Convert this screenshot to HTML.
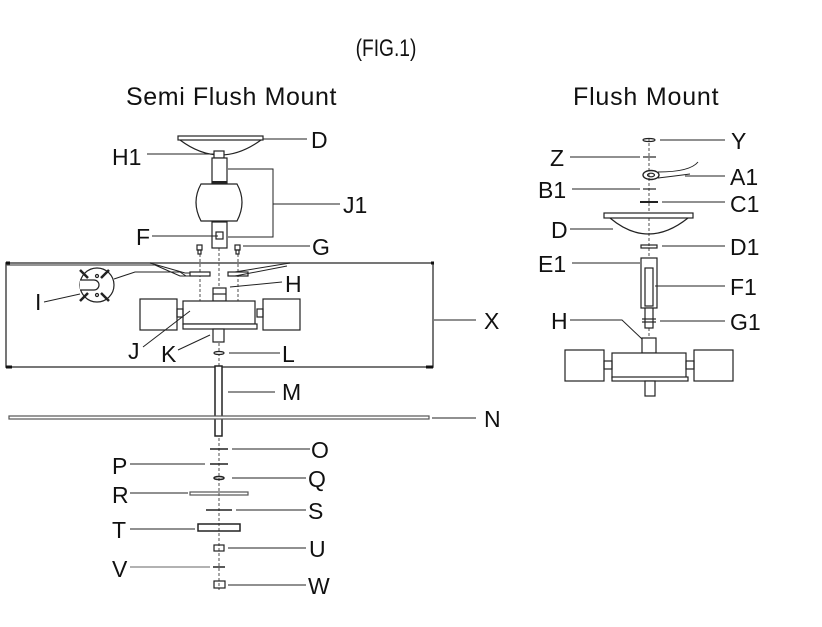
<!DOCTYPE html>
<html><head><meta charset="utf-8"><style>
html,body{margin:0;padding:0;background:#fff;}
svg{display:block;}
text{font-family:"Liberation Sans",sans-serif;fill:#111;}
</style></head><body>
<svg width="822" height="627" viewBox="0 0 822 627" xmlns="http://www.w3.org/2000/svg">
<g font-size="22">
<text x="386" y="56" text-anchor="middle" font-size="24" transform="translate(386 0) scale(0.8 1) translate(-386 0)">(FIG.1)</text>
<text x="126" y="105" font-size="25" letter-spacing="0.6">Semi Flush Mount</text>
<text x="573" y="105" font-size="25" letter-spacing="0.8">Flush Mount</text>
</g>

<g stroke="#222" fill="none" stroke-width="1.2">
<rect x="178" y="136" width="85" height="4" fill="#fff"/>
<path d="M180 140 Q220 170 261 140"/>
<rect x="214" y="151" width="10" height="7" fill="#fff"/>
<rect x="212" y="158" width="15" height="25" fill="#fff"/>
<line x1="212" y1="182" x2="227" y2="182" stroke-width="2"/>
<path d="M201 184 L237 184 Q247 202 237 221 L201 221 Q191 202 201 184Z" fill="#fff"/>
<rect x="212" y="222" width="15" height="26" fill="#fff"/>
<rect x="216" y="232" width="7" height="7"/>
<polyline points="228,169 273,169 273,237 228,237" stroke-width="1"/>
<line x1="273" y1="204" x2="340" y2="204" stroke-width="1"/>
<line x1="263" y1="139" x2="307" y2="139" stroke-width="1"/>
<line x1="147" y1="154" x2="214" y2="154" stroke-width="1"/>
<line x1="152" y1="236" x2="218" y2="236" stroke-width="1"/>
<line x1="243" y1="246" x2="310" y2="246" stroke-width="1"/>
<rect x="197" y="245" width="5" height="5"/><rect x="198" y="250" width="3" height="4"/>
<rect x="235" y="245" width="5" height="5"/><rect x="236" y="250" width="3" height="4"/>
<line x1="200" y1="254" x2="200" y2="302" stroke-dasharray="3 2" stroke-width="0.8"/>
<line x1="238" y1="254" x2="238" y2="302" stroke-dasharray="3 2" stroke-width="0.8"/>
<line x1="219" y1="248" x2="219" y2="590" stroke-dasharray="3 2" stroke-width="0.8"/>
<rect x="6" y="263" width="427" height="104" stroke="#555" stroke-width="1.6"/>
<line x1="6" y1="265" x2="155" y2="265" stroke="#555"/>
<path d="M6 263 h4 M431 263 h3 M6 367 h6 M426 367 h7" stroke="#111" stroke-width="3"/>
<line x1="434" y1="320" x2="476" y2="320" stroke-width="1"/>
<path d="M150 263 L185 273 L210 273 M155 265 L180 276 L210 276" stroke-width="1"/>
<rect x="190" y="272" width="20" height="4" fill="#fff"/>
<rect x="228" y="272" width="20" height="4" fill="#fff"/>
<path d="M235 272 L290 263 M235 276 L287 266" stroke-width="1"/>
<circle cx="97" cy="285" r="17" fill="#fff"/>
<path d="M80 280 h14 a5 5 0 0 1 0 10 h-14" fill="#fff"/>
<circle cx="97" cy="276" r="1.5"/><circle cx="97" cy="295" r="1.5"/>
<path d="M80 270 l8 8 M109 270 l-8 8 M80 301 l8 -8 M109 301 l-8 -8" stroke-width="2.5"/>
<path d="M114 279 L135 272 L180 272 L186 276" stroke-width="1"/>
<line x1="44" y1="302" x2="80" y2="294" stroke-width="1"/>
<rect x="213" y="288" width="13" height="13" fill="#fff"/>
<line x1="213" y1="294" x2="226" y2="294"/>
<rect x="183" y="301" width="72" height="23" fill="#fff"/>
<rect x="183" y="324" width="74" height="5" fill="#fff"/>
<rect x="140" y="299" width="37" height="31" fill="#fff"/>
<rect x="263" y="299" width="37" height="31" fill="#fff"/>
<rect x="177" y="309" width="6" height="8"/><rect x="257" y="309" width="6" height="8"/>
<rect x="213" y="329" width="11" height="13" fill="#fff"/>
<line x1="230" y1="287" x2="282" y2="282" stroke-width="1"/>
<line x1="190" y1="311" x2="143" y2="347" stroke-width="1"/>
<line x1="210" y1="335" x2="178" y2="350" stroke-width="1"/>
<ellipse cx="219" cy="353" rx="5" ry="1.5" fill="#fff"/>
<line x1="229" y1="353" x2="280" y2="353" stroke-width="1"/>
<rect x="215" y="366" width="7" height="70" fill="#fff" stroke-width="1.5"/>
<line x1="228" y1="392" x2="275" y2="392" stroke-width="1"/>
<rect x="9" y="416" width="420" height="3" fill="#fff" stroke="#555"/>
<line x1="432" y1="418" x2="476" y2="418" stroke-width="1"/>
<line x1="210" y1="449" x2="228" y2="449" stroke-width="1.5"/>
<line x1="232" y1="449" x2="310" y2="449" stroke-width="1"/>
<line x1="210" y1="464" x2="228" y2="464" stroke-width="1.5"/>
<line x1="130" y1="464" x2="205" y2="464" stroke-width="1"/>
<ellipse cx="219" cy="478" rx="5" ry="1.5" stroke-width="1.5"/>
<line x1="232" y1="478" x2="306" y2="478" stroke-width="1"/>
<rect x="190" y="492" width="58" height="3" stroke="#555"/>
<line x1="130" y1="493" x2="188" y2="493" stroke-width="1"/>
<line x1="206" y1="510" x2="232" y2="510" stroke-width="1.5"/>
<line x1="236" y1="510" x2="306" y2="510" stroke-width="1"/>
<rect x="198" y="524" width="42" height="7" stroke-width="1.5"/>
<line x1="130" y1="529" x2="195" y2="529" stroke-width="1"/>
<rect x="214" y="545" width="10" height="6"/>
<line x1="228" y1="548" x2="306" y2="548" stroke-width="1"/>
<line x1="213" y1="567" x2="225" y2="567" stroke-width="1.5"/>
<line x1="130" y1="567" x2="210" y2="567" stroke="#666" stroke-width="1"/>
<rect x="214" y="581" width="11" height="7"/>
<line x1="228" y1="585" x2="306" y2="585" stroke-width="1"/>

<line x1="649" y1="138" x2="649" y2="340" stroke-dasharray="3 2" stroke-width="0.8"/>
<ellipse cx="649" cy="140" rx="6" ry="1.5"/>
<line x1="660" y1="140" x2="725" y2="140" stroke-width="1"/>
<line x1="643" y1="157" x2="656" y2="157" stroke-width="1.2"/>
<line x1="570" y1="157" x2="640" y2="157" stroke-width="1"/>
<ellipse cx="651" cy="175" rx="8" ry="4.5" stroke-width="1.4"/>
<ellipse cx="651" cy="175" rx="3.5" ry="1.8"/>
<path d="M658 172 Q690 172 698 162" stroke-width="1"/>
<path d="M658 178 Q675 176 690 174" stroke-width="1"/>
<line x1="685" y1="176" x2="725" y2="176" stroke-width="1"/>
<line x1="643" y1="189" x2="656" y2="189" stroke-width="1.2"/>
<line x1="572" y1="189" x2="640" y2="189" stroke-width="1"/>
<line x1="640" y1="202" x2="658" y2="202" stroke-width="2"/>
<line x1="662" y1="202" x2="725" y2="202" stroke-width="1"/>
<rect x="604" y="213" width="89" height="5" fill="#fff"/>
<path d="M610 218 Q648 250 688 218"/>
<line x1="570" y1="229" x2="613" y2="229" stroke-width="1"/>
<rect x="641" y="245" width="16" height="3"/>
<line x1="662" y1="246" x2="725" y2="246" stroke-width="1"/>
<rect x="641" y="258" width="16" height="50" fill="#fff"/>
<rect x="645" y="268" width="8" height="38"/>
<line x1="572" y1="263" x2="640" y2="263" stroke-width="1"/>
<line x1="655" y1="286" x2="725" y2="286" stroke-width="1"/>
<rect x="645" y="308" width="8" height="20" fill="#fff"/>
<line x1="642" y1="319" x2="656" y2="319"/><line x1="642" y1="322" x2="656" y2="322"/>
<line x1="660" y1="321" x2="725" y2="321" stroke-width="1"/>
<polyline points="570,320 622,320 642,339" stroke-width="1"/>
<rect x="642" y="338" width="14" height="15" fill="#fff"/>
<rect x="612" y="353" width="74" height="25" fill="#fff"/>
<rect x="612" y="377" width="76" height="4" fill="#fff"/>
<rect x="565" y="350" width="39" height="31" fill="#fff"/>
<rect x="694" y="350" width="39" height="31" fill="#fff"/>
<rect x="604" y="361" width="8" height="8"/><rect x="686" y="361" width="8" height="8"/>
<rect x="645" y="381" width="10" height="15" fill="#fff"/>
</g>

<g font-size="23">
<text x="311" y="148">D</text>
<text x="112" y="165">H1</text>
<text x="343" y="213">J1</text>
<text x="136" y="245">F</text>
<text x="312" y="255">G</text>
<text x="35" y="310">I</text>
<text x="285" y="292">H</text>
<text x="484" y="329">X</text>
<text x="128" y="359">J</text>
<text x="161" y="362">K</text>
<text x="282" y="362">L</text>
<text x="282" y="400">M</text>
<text x="484" y="427">N</text>
<text x="311" y="458">O</text>
<text x="112" y="474">P</text>
<text x="308" y="487">Q</text>
<text x="112" y="503">R</text>
<text x="308" y="519">S</text>
<text x="112" y="538">T</text>
<text x="309" y="557">U</text>
<text x="112" y="577">V</text>
<text x="308" y="594">W</text>

<text x="731" y="149">Y</text>
<text x="550" y="166">Z</text>
<text x="730" y="185">A1</text>
<text x="538" y="198">B1</text>
<text x="730" y="212">C1</text>
<text x="551" y="238">D</text>
<text x="730" y="255">D1</text>
<text x="538" y="272">E1</text>
<text x="730" y="295">F1</text>
<text x="551" y="329">H</text>
<text x="730" y="330">G1</text>
</g>
</svg>
</body></html>
